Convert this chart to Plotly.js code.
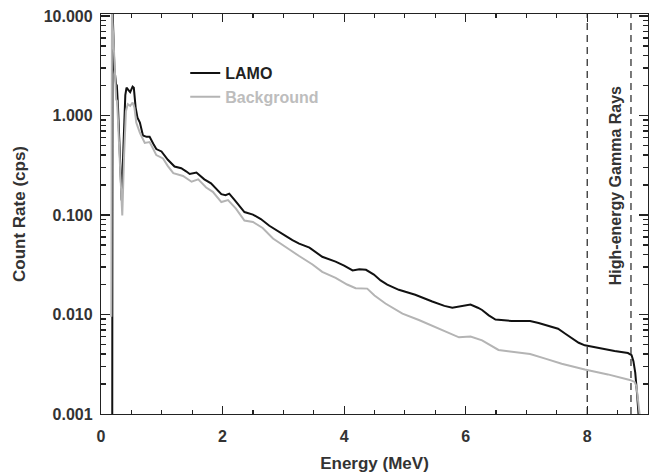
<!DOCTYPE html>
<html>
<head>
<meta charset="utf-8">
<script src="https://cdn.plot.ly/plotly-3.0.1.min.js"></script>
<style>
  html, body { margin: 0; padding: 0; background: #fff; }
  #chart { width: 649px; height: 475px; }
</style>
</head>
<body>
<div id="chart"></div>
<script>
// ---- Data ----
const lamoEnergy = [0.185, 0.19, 0.22, 0.25, 0.26, 0.28, 0.31, 0.34, 0.37, 0.40, 0.42, 0.46, 0.48, 0.52, 0.54, 0.57, 0.60, 0.64, 0.69, 0.75, 0.80, 0.86, 0.91, 0.995, 1.05, 1.10, 1.21, 1.32, 1.40, 1.46, 1.57, 1.63, 1.70, 1.81, 1.90, 1.98, 2.05, 2.11, 2.20, 2.28, 2.36, 2.50, 2.63, 2.77, 2.93, 3.05, 3.15, 3.26, 3.43, 3.55, 3.64, 3.86, 4.00, 4.14, 4.25, 4.36, 4.49, 4.60, 4.71, 4.90, 5.17, 5.45, 5.65, 5.78, 5.95, 6.08, 6.20, 6.27, 6.38, 6.49, 6.76, 7.06, 7.20, 7.31, 7.52, 7.64, 7.74, 7.86, 7.96, 8.18, 8.45, 8.67, 8.73, 8.76, 8.79, 8.82, 8.85, 8.87];
const lamoRate = [0.0005, 12, 3.0, 2.0, 2.05, 1.2, 0.4, 0.14, 0.5, 1.6, 1.9, 1.75, 1.72, 1.95, 1.9, 1.2, 0.95, 0.85, 0.63, 0.61, 0.61, 0.52, 0.46, 0.435, 0.39, 0.359, 0.307, 0.295, 0.275, 0.258, 0.267, 0.25, 0.228, 0.208, 0.18, 0.162, 0.158, 0.164, 0.141, 0.122, 0.107, 0.101, 0.091, 0.078, 0.067, 0.061, 0.056, 0.0516, 0.047, 0.042, 0.038, 0.034, 0.031, 0.0277, 0.0285, 0.0281, 0.0252, 0.022, 0.020, 0.0177, 0.0158, 0.0135, 0.0122, 0.0117, 0.0122, 0.0126, 0.0117, 0.0111, 0.0098, 0.0089, 0.0086, 0.0086, 0.0082, 0.0078, 0.0072, 0.0064, 0.0058, 0.0052, 0.0049, 0.0046, 0.0043, 0.0041, 0.0039, 0.0034, 0.0026, 0.0016, 0.0010, 0.0006];

const bgEnergy = [0.17, 0.18, 0.21, 0.235, 0.25, 0.265, 0.29, 0.32, 0.35, 0.38, 0.41, 0.44, 0.48, 0.52, 0.55, 0.58, 0.64, 0.72, 0.80, 0.86, 0.91, 1.02, 1.10, 1.19, 1.35, 1.49, 1.60, 1.73, 1.84, 1.98, 2.09, 2.22, 2.36, 2.50, 2.66, 2.83, 3.00, 3.10, 3.26, 3.48, 3.64, 3.86, 4.05, 4.19, 4.38, 4.50, 4.68, 4.96, 5.23, 5.50, 5.70, 5.89, 6.08, 6.27, 6.54, 6.81, 7.06, 7.31, 7.58, 7.96, 8.34, 8.70, 8.78, 8.81, 8.84, 8.87, 8.89];
const bgRate = [0.0095, 11, 5.0, 2.0, 1.45, 1.4, 0.6, 0.2, 0.099, 0.4, 1.1, 1.3, 1.25, 1.35, 1.2, 0.85, 0.67, 0.53, 0.54, 0.46, 0.40, 0.37, 0.31, 0.263, 0.247, 0.216, 0.228, 0.189, 0.171, 0.135, 0.141, 0.116, 0.088, 0.085, 0.074, 0.058, 0.050, 0.045, 0.0387, 0.0318, 0.0268, 0.0233, 0.020, 0.0184, 0.0182, 0.0155, 0.0129, 0.0102, 0.0088, 0.0075, 0.0066, 0.0059, 0.0060, 0.0055, 0.0044, 0.0042, 0.0040, 0.0036, 0.0032, 0.0028, 0.0025, 0.0022, 0.0021, 0.0019, 0.0014, 0.0009, 0.0006];

const seriesNames = ["LAMO", "Background"];
const seriesColors = ["#111111", "#b4b4b4"];
const legendTextColors = ["#222222", "#bdbdbd"];
const yTickVals = [0.001, 0.01, 0.1, 1, 10];
const yTickText = ["0.001", "0.010", "0.100", "1.000", "10.000"];
const xTickVals = [0, 2, 4, 6, 8];
const xTickText = ["0", "2", "4", "6", "8"];
const regionBounds = [8, 8.72];
const regionLabel = "High-energy Gamma Rays";
const regionLabelX = 8.46;

const FONT = "Liberation Sans, Arial, Helvetica, sans-serif";
const TXT = "#333333";

const traces = [
  { x: lamoEnergy, y: lamoRate, type: "scatter", mode: "lines",
    name: '<span style="color:' + legendTextColors[0] + '">' + seriesNames[0] + '</span>',
    line: { color: seriesColors[0], width: 2 } },
  { x: bgEnergy, y: bgRate, type: "scatter", mode: "lines",
    name: '<span style="color:' + legendTextColors[1] + '">' + seriesNames[1] + '</span>',
    line: { color: seriesColors[1], width: 2 } }
];

const axisCommon = {
  showline: true, linecolor: "#222", linewidth: 1.2, mirror: "ticks",
  ticks: "inside", tickcolor: "#222", tickwidth: 1.2,
  showgrid: false, zeroline: false,
  tickfont: { family: FONT, size: 16, color: TXT, weight: "bold" }
};

const layout = {
  width: 649, height: 475,
  margin: { l: 101, r: 1, t: 14, b: 61 },
  paper_bgcolor: "#fff", plot_bgcolor: "#fff",
  showlegend: true,
  legend: {
    x: 0.154, y: 0.895, xanchor: "left", yanchor: "top",
    bgcolor: "rgba(0,0,0,0)", borderwidth: 0,
    font: { family: FONT, size: 16, weight: "bold", color: TXT }
  },
  xaxis: Object.assign({}, axisCommon, {
    range: [0, 9], tickmode: "array", tickvals: xTickVals, ticktext: xTickText,
    ticklen: 8, ticklabelstandoff: 8,
    minor: { dtick: 0.5, ticklen: 4, ticks: "inside", tickcolor: "#222", tickwidth: 1.2, showgrid: false },
    title: { text: "Energy (MeV)", standoff: 12,
             font: { family: FONT, size: 17, weight: "bold", color: TXT } }
  }),
  yaxis: Object.assign({}, axisCommon, {
    type: "log", range: [-3, 1.02], tickmode: "array", tickvals: yTickVals, ticktext: yTickText,
    ticklen: 9, ticklabelstandoff: 4,
    minor: { dtick: "D1", ticklen: 5, ticks: "inside", tickcolor: "#222", tickwidth: 1.2, showgrid: false },
    title: { text: "Count Rate (cps)", standoff: 13,
             font: { family: FONT, size: 17, weight: "bold", color: TXT } }
  }),
  shapes: regionBounds.map(v => ({
    type: "line", xref: "x", yref: "paper", x0: v, x1: v, y0: 0, y1: 1,
    line: { color: "#222", width: 1.2, dash: "7px,5px" }
  })),
  annotations: [{
    x: regionLabelX, xref: "x", y: 0.57, yref: "paper",
    text: regionLabel, textangle: -90, showarrow: false,
    font: { family: FONT, size: 16, weight: "bold", color: TXT }
  }]
};

Plotly.newPlot("chart", traces, layout, { staticPlot: true, displayModeBar: false });
</script>
</body>
</html>
